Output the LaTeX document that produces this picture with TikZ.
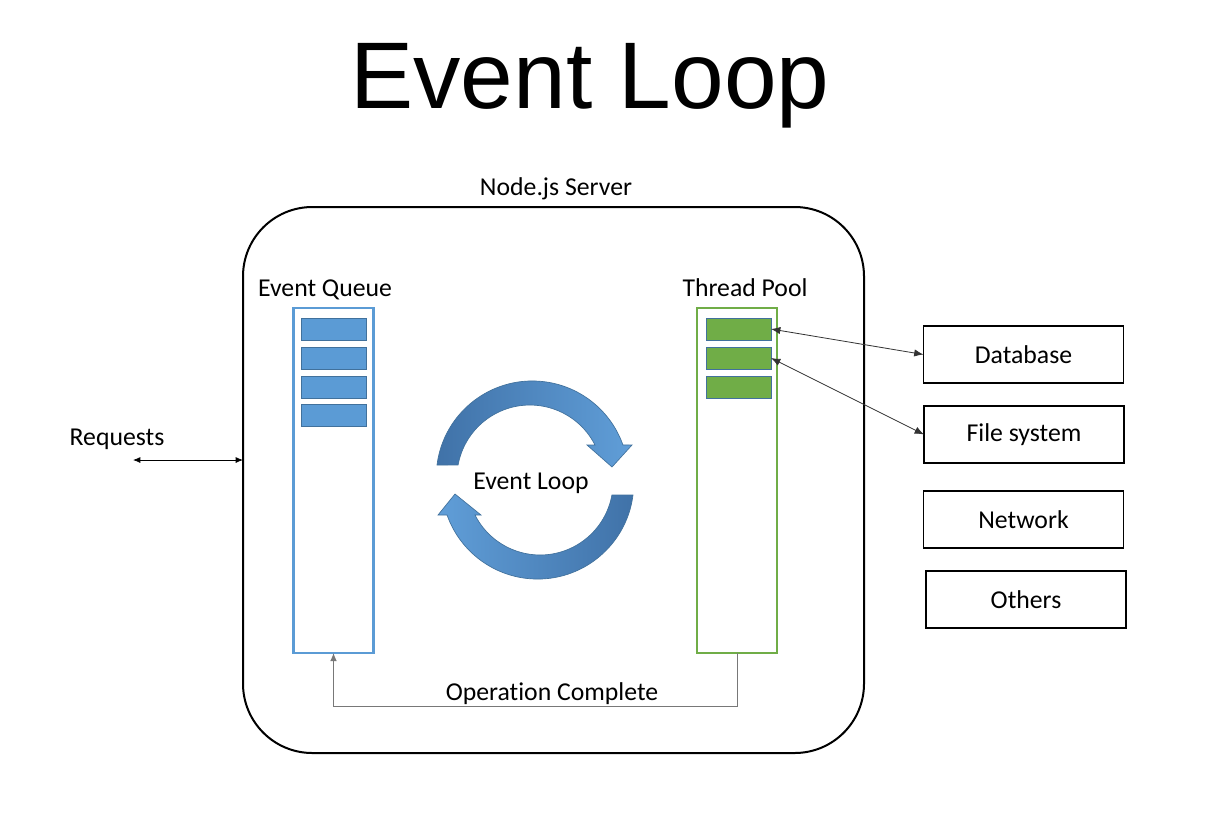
\documentclass[tikz,border=0pt]{standalone}
\usepackage{fontspec}
\setmainfont{Carlito}[Ligatures=NoCommon]
\newfontfamily\titlefont{Liberation Sans}
\usetikzlibrary{arrows.meta}
\definecolor{qblue}{RGB}{91,155,213}
\definecolor{qborder}{RGB}{65,113,156}
\definecolor{pgreen}{RGB}{112,173,71}
\definecolor{loopdark}{RGB}{64,114,168}
\definecolor{looplight}{RGB}{96,158,216}
\definecolor{linegray}{RGB}{120,120,120}
\begin{document}
\begin{tikzpicture}[x=0.75pt,y=-0.75pt,
  lbl/.style={font=\fontsize{19.3}{22}\selectfont, inner sep=0},
  colbox/.style={draw=#1, line width=2.2pt, inner sep=0, outer sep=0,
    minimum width=80*0.75pt, minimum height=345*0.75pt},
  slot/.style={draw=qborder, fill=#1, line width=0.7pt, inner sep=0, outer sep=0,
    minimum width=65*0.75pt, minimum height=22*0.75pt},
  extbox/.style={draw, line width=1.1pt, inner sep=0, outer sep=0,
    minimum width=200*0.75pt, minimum height=57*0.75pt,
    font=\fontsize{19.3}{22}\selectfont},
  conn/.style={line width=0.6pt, draw=black!80, {Latex[length=7pt,width=5.5pt]}-{Latex[length=7pt,width=5.5pt]}},
  looparrow/.style={draw=qborder, line width=0.5pt}
]
\useasboundingbox[fill=white] (0,0) rectangle (1212,822);

% title
\node[font=\titlefont\fontsize{71}{80}\selectfont, anchor=base, inner sep=0] (title) at (590,108) {Event Loop};

% server
\node[draw, line width=1.5pt, rounded corners=52pt, inner sep=0, outer sep=0,
  minimum width=621*0.75pt, minimum height=546*0.75pt] (srv) at (553.5,480) {};
\node[lbl, anchor=base] (srvlbl) at (556,195) {Node.js Server};

% event queue
\node[colbox=qblue] (eq) at (333.5,480.5) {};
\node[lbl, anchor=base] (eqlbl) at (325,296) {Event Queue};
\node[slot=qblue] (b1) at (333.5,329) {};
\node[slot=qblue] (b2) at (333.5,358) {};
\node[slot=qblue] (b3) at (333.5,387) {};
\node[slot=qblue] (b4) at (333.5,415) {};

% thread pool
\node[colbox=pgreen] (tp) at (737,480.5) {};
\node[lbl, anchor=base] (tplbl) at (745,296) {Thread Pool};
\node[slot=pgreen] (g1) at (738.5,329) {};
\node[slot=pgreen] (g2) at (738.5,358) {};
\node[slot=pgreen] (g3) at (738.5,387) {};

% external boxes
\node[extbox] (db) at (1023.5,354.5) {Database};
\node[extbox] (fs) at (1024,434.5) {File system};
\node[extbox] (nw) at (1023.5,519.5) {Network};
\node[extbox] (ot) at (1026,599.5) {Others};

\draw[conn] (g1.east) -- (db.west);
\draw[conn] (g2.east) -- (fs.west);

% requests
\node[lbl, anchor=base] (req) at (117,445) {Requests};
\coordinate (rq) at (133,460);
\draw[line width=0.6pt, {Latex[length=5.5pt,width=4.5pt]}-{Latex[length=5.5pt,width=4.5pt]}] (rq) -- (rq -| srv.west);

% operation complete
\draw[line width=0.75pt, draw=linegray, -{Latex[length=6pt,width=5pt]}]
  (tp.south) -- ++(0,53) -| (eq.south);
\node[lbl, anchor=base] (oplbl) at (552,700) {Operation Complete};

% event loop arrows
\path[looparrow, left color=loopdark, right color=looplight]
  (437,465) arc[start angle=187.2, end angle=340.5, radius=96.1]
  -- (632,445) -- (612,467) -- (587,445) -- (595,445)
  arc[start angle=333.1, end angle=190.3, radius=73] -- cycle;
\path[looparrow, left color=looplight, right color=loopdark]
  (633,495) arc[start angle=7.2, end angle=160.5, radius=96.1]
  -- (438,515) -- (455,494) -- (481,515) -- (475,515)
  arc[start angle=153.1, end angle=10.3, radius=73] -- cycle;
\node[lbl, anchor=base] (loopl) at (531,489) {Event Loop};
\end{tikzpicture}
\end{document}
